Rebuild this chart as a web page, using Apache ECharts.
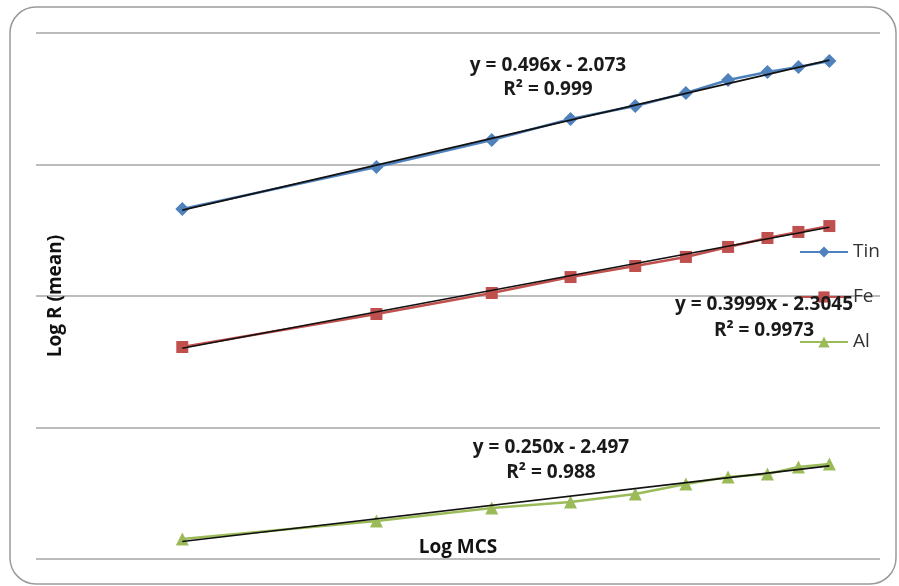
<!DOCTYPE html>
<html>
<head>
<meta charset="utf-8">
<script src="https://cdn.jsdelivr.net/npm/echarts@6/dist/echarts.min.js"></script>
<style>html,body{margin:0;padding:0;background:#fff;}#c{width:899px;height:586px;}</style>
</head>
<body>
<div id="c"></div>
<script>
// Log MCS values (x)
const logMCS = [8.52, 9.21, 9.62, 9.90, 10.13, 10.31, 10.46, 10.60, 10.71, 10.82];
// Log R (mean) values
const tinValues = [2.162, 2.481, 2.686, 2.846, 2.945, 3.044, 3.143, 3.203, 3.241, 3.287];
const feValues  = [1.112, 1.363, 1.523, 1.644, 1.728, 1.797, 1.873, 1.941, 1.987, 2.032];
const alValues  = [-0.348, -0.211, -0.112, -0.066, -0.006, 0.070, 0.124, 0.146, 0.200, 0.222];
const seriesNames = ['Tin', 'Fe', 'Al'];
// trendline equations as printed on the chart
const trendSlopes = [0.496, 0.3999, 0.250];
const trendIntercepts = [-2.073, -2.3045, -2.497];
const trendLabels = [
  ['y = 0.496x - 2.073', 'R² = 0.999'],
  ['y = 0.3999x - 2.3045', 'R² = 0.9973'],
  ['y = 0.250x - 2.497', 'R² = 0.988']
];

const colors = ['#4F81BD', '#C0504D', '#9BBB59'];
const symbols = ['diamond', 'rect', 'triangle'];
const symbolSizes = [14, 12, 13];
const allValues = [tinValues, feValues, alValues];

const chart = echarts.init(document.getElementById('c'), null, {renderer: 'canvas'});

const series = [];
allValues.forEach((vals, i) => {
  series.push({
    name: seriesNames[i],
    type: 'line',
    data: logMCS.map((x, j) => [x, vals[j]]),
    symbol: symbols[i],
    symbolSize: symbolSizes[i],
    itemStyle: {color: colors[i]},
    lineStyle: {color: colors[i], width: 2.5},
    z: 2
  });
});
allValues.forEach((vals, i) => {
  const x0 = logMCS[0], x1 = logMCS[logMCS.length - 1];
  series.push({
    name: 'trend' + i,
    type: 'line',
    data: [[x0, trendSlopes[i] * x0 + trendIntercepts[i]], [x1, trendSlopes[i] * x1 + trendIntercepts[i]]],
    symbol: 'none',
    lineStyle: {color: '#111', width: 1.6},
    silent: true,
    z: 3
  });
});

const labelPos = [[548, 66, 90], [764, 305, 331], [551, 448, 473]];
const eqFont = 'bold 19px "Open Sans", sans-serif';
const graphics = [{
  type: 'rect',
  shape: {x: 10, y: 7, width: 886, height: 577, r: 26},
  style: {fill: 'none', stroke: '#9a9a9a', lineWidth: 1.5},
  silent: true, z: -1
}];
trendLabels.forEach((lines, i) => {
  const p = labelPos[i];
  graphics.push({type: 'text', x: p[0], y: p[1], z: 100,
    style: {text: lines[0], font: eqFont, fill: '#1a1a1a', textAlign: 'center', textVerticalAlign: 'middle'}});
  graphics.push({type: 'text', x: p[0], y: p[2], z: 100,
    style: {text: lines[1], font: eqFont, fill: '#1a1a1a', textAlign: 'center', textVerticalAlign: 'middle'}});
});

chart.setOption({
  animation: false,
  backgroundColor: '#fff',
  grid: {left: 36, right: 19, top: 33, bottom: 27},
  legend: {
    data: seriesNames,
    orient: 'vertical',
    left: 794, top: 237,
    itemWidth: 48, itemHeight: 14, itemGap: 25,
    textStyle: {fontSize: 19, color: '#333', fontFamily: '"Open Sans", sans-serif', lineHeight: 20}
  },
  xAxis: {
    type: 'value', min: 8, max: 11,
    name: 'Log MCS', nameLocation: 'middle', nameGap: -21,
    nameTextStyle: {fontSize: 19, fontWeight: 'bold', color: '#111', fontFamily: '"Open Sans", sans-serif'},
    axisLine: {show: false}, axisTick: {show: false}, axisLabel: {show: false}, splitLine: {show: false}
  },
  yAxis: [{
    type: 'value', min: -0.5, max: 3.5,
    name: 'Log R (mean)', nameLocation: 'middle', nameGap: -29, nameRotate: 90,
    nameTextStyle: {fontSize: 19, fontWeight: 'bold', color: '#111', fontFamily: '"Open Sans", sans-serif'},
    axisLine: {show: false}, axisTick: {show: false}, axisLabel: {show: false}, splitLine: {show: false}
  }, {
    type: 'value', min: 0, max: 4, interval: 1, position: 'left',
    axisLine: {show: false}, axisTick: {show: false}, axisLabel: {show: false},
    splitLine: {show: true, lineStyle: {color: '#a6a6a6', width: 1.6}}
  }],
  series: series,
  graphic: graphics
});
</script>
</body>
</html>
